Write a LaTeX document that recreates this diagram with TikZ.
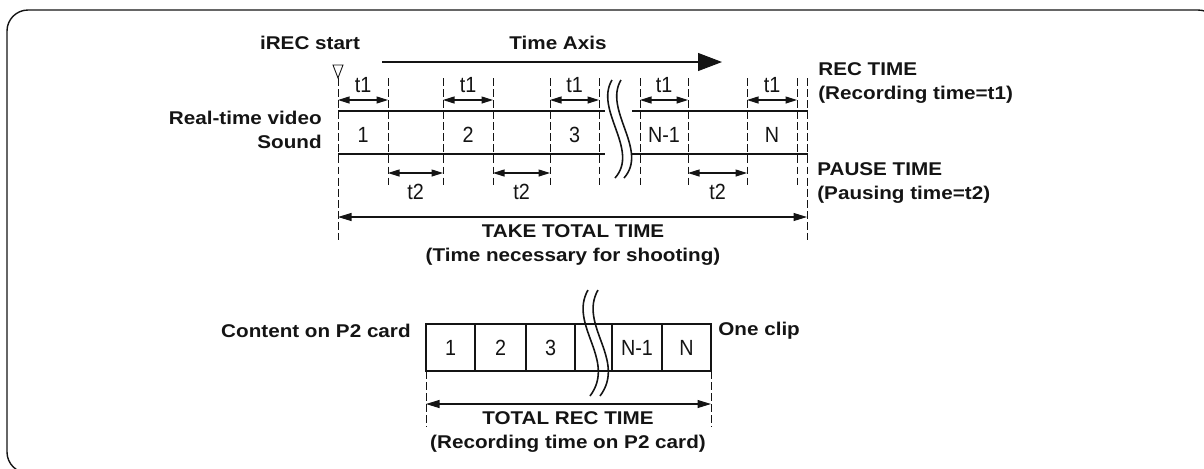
\documentclass[tikz,border=0pt]{standalone}
\usepackage{fontspec}
\setmainfont{Liberation Sans}
\newfontfamily\labelfont[FakeStretch=1.12]{Liberation Sans}
\newfontfamily\markfont[FakeStretch=0.9]{Liberation Sans}
\usepackage{xcolor}
\definecolor{inkblack}{RGB}{20,20,20}
\usepackage{tikz}
\usetikzlibrary{arrows.meta, calc}

\begin{document}
\begin{tikzpicture}[x=0.02cm, y=-0.02cm, inkblack,
  every node/.style={font=\markfont\fontsize{12.5}{13.5}\selectfont, inner sep=0pt},
  lbl/.style={font=\labelfont\bfseries\fontsize{10.5}{13.5}\selectfont},
  guide/.style={dash pattern=on 4.5pt off 1.8pt, line width=0.5pt},
  dimarrow/.style={{Triangle[length=2.3mm,width=1.4mm]}-{Triangle[length=2.3mm,width=1.4mm]}, line width=0.6pt},
  bigarrow/.style={{Triangle[length=2.7mm,width=1.6mm]}-{Triangle[length=2.7mm,width=1.6mm]}, line width=0.6pt},
  band/.style={line width=1.2pt},
  wave/.style={line width=0.9pt}]

\useasboundingbox (0,0) rectangle (1204,468);

% === Frame ===
\begin{scope}
\clip (0,0) rectangle (1204,468);
\draw[line width=0.8pt, rounded corners=0.42cm] (7,10) rectangle (1219,473);
\end{scope}

% === Time axis (top) ===
\node[lbl] (irec) at (310,43) {iREC start};
\node[lbl] (axis) at (558,43) {Time Axis};
\draw[-{Triangle[length=4.8mm,width=3.6mm]}, line width=0.6pt] (382,62) -- (722,62);

% start marker
\draw[line width=0.5pt] (333,65) -- (343,65) -- (338,78) -- cycle;

% Guide lines
\draw[guide] (338,78) -- (338,240);
\draw[guide] (807,78) -- (807,240);
\foreach \x in {388,443,493,550,599,640,688,747,797}
  \draw[guide] (\x,78) -- (\x,185);

% Recording band
\draw[band] (338,111) -- (605,111);
\draw[band] (632,111) -- (808,111);
\draw[band] (338,154) -- (605,154);
\draw[band] (632,154) -- (808,154);

% Break
\foreach \dx in {0,9}
  \draw[wave] (612+\dx,80) .. controls (594+\dx,110) and (640+\dx,150) .. (615+\dx,178);

% REC TIME arrows
\foreach \a/\b [count=\i] in {338/388,443/493,550/599,640/688,747/797} {
  \draw[dimarrow] (\a,100) -- (\b,100);
  \node (tone\i) at ({(\a+\b)/2},85) {t1};
}
\foreach \a/\b/\txt [count=\i] in {338/388/1,443/493/2,550/599/3,640/688/N-1,747/797/N}
  \node (seg\i) at ({(\a+\b)/2},135) {\txt};

% PAUSE TIME arrows
\foreach \a/\b [count=\i] in {388/443,493/550,688/747} {
  \draw[dimarrow] (\a,173) -- (\b,173);
  \node (ttwo\i) at ({(\a+\b)/2},192) {t2};
}

% Labels
\node[lbl, anchor=east, align=right] (video) at (322,130) {Real-time video\\Sound};
\node[lbl, anchor=west, align=left] (rectime) at (818,83) {REC TIME\\(Recording time=t1)};
\node[lbl, anchor=west, align=left] (pausetime) at (817,183) {PAUSE TIME\\(Pausing time=t2)};

% Take total time
\draw[bigarrow] (338,217) -- (807,217);
\node[lbl, align=center] (take) at (573,245) {TAKE TOTAL TIME\\(Time necessary for shooting)};

% === P2 card (bottom) ===
\node[lbl, anchor=east] (content) at (411,331) {Content on P2 card};
\node[lbl, anchor=west] (clip) at (718,331) {One clip};

\foreach \x in {475,526,575,612,662}
  \draw[line width=0.6pt] (\x,324) -- (\x,371);
\draw[band] (426,324) rectangle (711,371);
\foreach \a/\b/\txt [count=\i] in {426/475/1,475/526/2,526/575/3,612/662/N-1,662/711/N}
  \node (cell\i) at ({(\a+\b)/2},348) {\txt};

\foreach \dx in {0,10}
  \draw[wave] (588+\dx,290) .. controls (568+\dx,325) and (617+\dx,360) .. (590+\dx,396);

\draw[guide] (426,371) -- (426,427);
\draw[guide] (711,371) -- (711,427);
\draw[bigarrow] (426,404) -- (711,404);
\node[lbl, align=center] (total) at (568,432) {TOTAL REC TIME\\(Recording time on P2 card)};

\end{tikzpicture}
\end{document}
